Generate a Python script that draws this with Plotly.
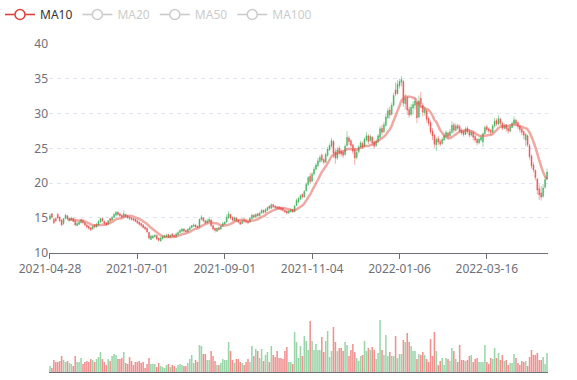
import plotly.graph_objects as go
import pandas as pd

# ---------------- data ----------------
tick_labels = ["2021-04-28", "2021-07-01", "2021-09-01", "2021-11-04", "2022-01-06", "2022-03-16"]
tick_index = [0, 45, 90, 135, 180, 225]

opens = [
    14.8, 15.6, 14.8, 14.9, 15.5, 15.1, 14.7, 14.2, 14.9, 15.3,
    14.6, 14.7, 14.9, 14.6, 13.9, 14.1, 14.3, 14.6, 14.3, 14.0,
    13.8, 13.6, 13.4, 14.0, 13.7, 14.0, 14.4, 14.9, 14.5, 14.3,
    14.1, 14.9, 14.7, 15.1, 15.4, 15.8, 15.6, 15.4, 15.2, 15.5,
    15.3, 15.1, 15.0, 14.9, 14.8, 14.6, 14.4, 14.2, 14.0, 13.7,
    13.5, 12.9, 11.9, 12.1, 12.3, 12.5, 12.1, 11.7, 12.0, 12.2,
    12.3, 12.6, 12.2, 12.7, 12.5, 12.3, 12.6, 12.9, 13.1, 13.4,
    13.2, 13.0, 13.3, 13.6, 13.8, 14.0, 13.8, 13.7, 14.8, 15.0,
    14.6, 14.3, 14.5, 14.7, 13.9, 13.5, 13.1, 13.6, 13.4, 13.8,
    14.1, 14.4, 15.0, 15.5, 15.1, 14.6, 15.0, 14.7, 14.4, 14.2,
    14.7, 14.6, 14.5, 14.4, 14.9, 15.4, 15.1, 15.6, 15.3, 15.7,
    16.1, 15.8, 16.1, 16.7, 16.4, 16.9, 16.7, 16.6, 16.6, 16.5,
    16.4, 16.1, 16.0, 15.7, 15.9, 16.2, 15.9, 16.8, 17.3, 17.7,
    18.4, 18.0, 18.9, 19.8, 21.0, 20.3, 21.3, 22.0, 22.5, 23.1,
    24.0, 23.4, 23.0, 24.0, 24.8, 25.3, 26.0, 24.5, 23.6, 25.0,
    24.6, 24.4, 24.1, 25.4, 26.5, 26.1, 25.5, 24.8, 23.7, 24.5,
    25.2, 25.7, 25.3, 26.2, 26.8, 26.1, 26.6, 25.9, 25.4, 26.0,
    26.6, 27.9, 27.4, 28.3, 29.4, 30.5, 29.9, 31.2, 33.4, 32.9,
    34.0, 34.5, 34.6, 31.4, 32.3, 30.6, 29.9, 30.8, 31.2, 31.6,
    29.5, 32.2, 31.2, 30.1, 30.4, 29.3, 28.7, 27.5, 26.9, 25.5,
    26.4, 26.0, 25.7, 26.2, 26.7, 27.2, 26.8, 27.3, 28.4, 27.6,
    28.3, 28.1, 27.6, 27.4, 27.0, 27.9, 27.5, 26.9, 27.3, 26.7,
    26.3, 25.8, 26.2, 25.9, 27.1, 28.1, 27.8, 27.6, 27.3, 28.2,
    29.0, 28.5, 29.2, 28.6, 27.9, 28.4, 27.9, 27.5, 28.0, 28.5,
    29.0, 28.7, 28.2, 27.8, 27.4, 26.2, 26.8, 25.4, 23.9, 22.6,
    21.8, 20.6, 19.2, 18.6, 18.1, 19.4, 20.6,
]

closes = [
    15.3, 15.1, 14.3, 14.6, 15.0, 14.6, 14.0, 14.9, 15.4, 14.9,
    14.9, 15.0, 14.5, 14.0, 14.2, 14.4, 14.7, 14.3, 14.0, 13.7,
    13.5, 13.3, 13.8, 13.7, 14.1, 14.5, 14.9, 14.6, 14.2, 14.0,
    14.6, 14.6, 15.1, 15.5, 15.8, 15.5, 15.3, 15.1, 15.6, 15.2,
    15.0, 14.9, 14.8, 14.7, 14.5, 14.3, 14.1, 13.9, 13.6, 13.4,
    13.0, 12.1, 12.4, 12.4, 12.5, 12.0, 11.8, 12.1, 12.3, 12.4,
    12.5, 12.2, 12.5, 12.4, 12.3, 12.7, 12.9, 13.2, 13.4, 13.1,
    13.0, 13.4, 13.6, 13.9, 14.0, 13.7, 13.6, 14.8, 15.1, 14.6,
    14.3, 14.6, 14.8, 13.9, 13.4, 13.2, 13.5, 13.3, 13.8, 14.2,
    14.4, 15.1, 15.6, 15.0, 14.7, 15.0, 14.6, 14.4, 14.1, 14.6,
    14.5, 14.4, 14.3, 14.9, 15.4, 15.1, 15.5, 15.3, 15.7, 16.1,
    15.8, 16.2, 16.5, 16.4, 16.9, 16.6, 16.5, 16.4, 16.3, 16.2,
    16.1, 15.9, 15.7, 16.0, 16.2, 15.9, 16.7, 17.5, 17.8, 18.2,
    18.0, 18.8, 19.8, 20.8, 20.2, 21.3, 22.0, 22.6, 23.2, 23.7,
    23.3, 23.0, 24.1, 24.9, 25.4, 26.1, 24.3, 23.6, 24.8, 24.4,
    24.2, 24.0, 25.3, 26.6, 26.0, 25.4, 24.6, 23.6, 24.4, 25.2,
    25.8, 25.2, 26.3, 26.8, 26.0, 26.7, 25.8, 25.3, 26.0, 26.8,
    27.8, 27.3, 28.4, 29.5, 30.4, 29.8, 31.2, 32.6, 32.8, 34.2,
    34.6, 34.9, 31.5, 32.2, 30.5, 29.8, 30.9, 31.3, 31.8, 29.4,
    31.8, 31.4, 30.2, 30.6, 29.2, 28.6, 27.4, 26.8, 25.6, 26.3,
    25.9, 25.6, 26.3, 26.8, 27.3, 26.7, 27.4, 28.3, 27.6, 28.2,
    27.9, 27.5, 27.2, 27.0, 27.8, 27.4, 26.9, 27.3, 26.6, 26.2,
    25.8, 26.3, 26.6, 27.1, 28.0, 27.7, 27.5, 27.3, 28.2, 28.9,
    28.5, 29.3, 28.6, 27.9, 28.3, 27.8, 27.5, 28.1, 28.6, 29.1,
    28.6, 28.2, 27.7, 27.3, 26.9, 27.0, 25.5, 23.8, 22.5, 21.9,
    20.8, 19.0, 18.3, 18.0, 19.3, 20.5, 21.6,
]

highs = [
    15.6, 15.7, 15.0, 15.1, 15.7, 15.2, 14.8, 15.0, 15.6, 15.4,
    15.1, 15.2, 15.0, 14.7, 14.4, 14.6, 14.8, 14.7, 14.4, 14.1,
    13.9, 13.7, 13.9, 14.1, 14.3, 14.7, 15.0, 15.1, 14.6, 14.4,
    14.7, 15.0, 15.3, 15.7, 16.0, 16.0, 15.7, 15.5, 16.1, 15.6,
    15.4, 15.2, 15.1, 15.0, 14.9, 14.7, 14.5, 14.3, 14.1, 13.8,
    13.6, 13.0, 12.6, 12.6, 12.7, 12.6, 12.2, 12.3, 12.5, 12.6,
    12.7, 12.7, 12.6, 12.8, 12.6, 12.9, 13.1, 13.4, 13.6, 13.5,
    13.3, 13.5, 13.8, 14.0, 14.2, 14.1, 13.9, 14.9, 15.4, 15.1,
    14.7, 14.9, 15.1, 14.8, 14.0, 13.6, 13.6, 13.7, 13.9, 14.4,
    14.5, 15.5, 16.0, 15.6, 15.2, 15.2, 15.1, 14.8, 14.6, 14.8,
    14.8, 14.7, 14.6, 15.1, 15.6, 15.5, 15.7, 15.7, 15.9, 16.3,
    16.2, 16.4, 16.6, 16.8, 17.1, 17.0, 16.8, 16.7, 16.7, 16.6,
    16.5, 16.2, 16.1, 16.2, 16.3, 16.3, 16.9, 17.8, 18.0, 18.4,
    18.5, 19.0, 20.1, 21.0, 21.5, 21.6, 22.4, 22.9, 23.6, 24.0,
    24.3, 23.6, 24.4, 25.2, 25.7, 26.5, 26.2, 25.0, 25.2, 25.4,
    24.9, 24.7, 25.6, 27.5, 26.8, 26.3, 25.7, 25.0, 24.8, 25.5,
    26.1, 26.0, 26.6, 27.3, 27.0, 27.0, 26.8, 26.1, 26.3, 27.1,
    28.2, 28.4, 28.8, 29.9, 30.8, 31.0, 31.6, 33.0, 34.5, 34.8,
    35.0, 35.4, 34.8, 32.8, 32.5, 31.0, 31.4, 31.8, 32.3, 31.6,
    32.6, 33.1, 31.5, 31.0, 30.6, 29.6, 29.0, 27.9, 27.1, 26.6,
    26.8, 26.3, 26.6, 27.2, 27.6, 27.4, 27.8, 28.9, 28.7, 28.6,
    28.5, 28.4, 27.9, 27.7, 28.1, 28.2, 27.7, 27.6, 27.4, 26.9,
    26.4, 26.6, 26.9, 27.3, 28.3, 28.4, 28.0, 27.8, 28.5, 29.4,
    29.3, 29.8, 29.4, 28.8, 28.6, 28.5, 28.1, 28.4, 28.9, 29.6,
    29.3, 28.9, 28.4, 28.0, 27.6, 27.2, 27.0, 25.6, 24.1, 23.0,
    22.0, 20.8, 19.8, 19.6, 19.9, 21.0, 22.1,
]

lows = [
    14.7, 14.9, 14.1, 14.4, 14.9, 14.4, 13.8, 14.0, 14.8, 14.7,
    14.5, 14.6, 14.4, 13.8, 13.8, 14.0, 14.2, 14.2, 13.8, 13.5,
    13.3, 13.1, 13.3, 13.5, 13.6, 13.9, 14.3, 14.4, 14.0, 13.9,
    14.0, 14.4, 14.6, 15.0, 15.3, 15.3, 15.1, 15.0, 15.1, 15.0,
    14.9, 14.7, 14.6, 14.5, 14.4, 14.1, 13.9, 13.7, 13.5, 13.2,
    12.8, 11.9, 11.8, 12.0, 12.2, 11.8, 11.6, 11.6, 11.9, 12.1,
    12.2, 12.1, 12.1, 12.3, 12.2, 12.2, 12.5, 12.8, 13.0, 13.0,
    12.9, 12.9, 13.2, 13.5, 13.7, 13.6, 13.5, 13.6, 14.6, 14.4,
    14.1, 14.2, 14.4, 13.7, 13.2, 12.9, 13.0, 13.2, 13.3, 13.7,
    14.0, 14.3, 14.9, 14.8, 14.5, 14.5, 14.4, 14.2, 14.0, 14.1,
    14.3, 14.2, 14.1, 14.3, 14.8, 14.9, 15.0, 15.2, 15.2, 15.6,
    15.6, 15.7, 16.0, 16.2, 16.3, 16.4, 16.3, 16.2, 16.2, 16.0,
    15.9, 15.7, 15.5, 15.6, 15.8, 15.7, 15.8, 16.7, 17.1, 17.5,
    17.8, 17.9, 18.8, 19.6, 19.9, 20.1, 21.1, 21.8, 22.3, 22.9,
    23.0, 22.7, 22.9, 23.8, 24.6, 25.1, 23.6, 22.8, 23.3, 24.0,
    23.8, 23.6, 24.0, 25.2, 25.5, 25.0, 24.2, 22.6, 23.4, 24.3,
    25.0, 24.9, 25.2, 26.0, 25.6, 25.9, 25.4, 24.9, 25.2, 25.8,
    26.4, 26.9, 27.2, 28.1, 29.2, 29.3, 29.7, 31.0, 32.5, 32.7,
    33.6, 33.9, 31.0, 30.6, 29.8, 29.4, 29.6, 29.8, 30.6, 28.6,
    29.3, 30.8, 29.6, 29.7, 28.7, 28.2, 27.0, 26.2, 25.1, 24.6,
    25.5, 25.3, 25.5, 26.1, 26.5, 26.3, 26.6, 27.1, 27.2, 27.4,
    27.6, 27.2, 26.9, 26.7, 26.9, 27.1, 26.6, 26.7, 26.1, 25.8,
    25.4, 25.6, 26.0, 25.2, 27.0, 27.4, 27.2, 26.9, 27.2, 28.0,
    28.2, 28.3, 28.3, 27.6, 27.7, 27.4, 27.1, 27.3, 27.9, 28.4,
    28.3, 27.8, 27.3, 26.9, 26.3, 25.3, 25.2, 23.4, 22.1, 21.5,
    20.4, 18.4, 17.6, 17.5, 17.9, 19.2, 20.4,
]

volumes = [
    6, 4, 12, 10, 10, 11, 16, 12, 10, 11,
    9, 8, 6, 16, 10, 10, 14, 8, 10, 11,
    10, 13, 12, 10, 13, 15, 20, 13, 10, 7,
    13, 11, 16, 18, 17, 13, 13, 14, 20, 9,
    8, 15, 11, 7, 10, 10, 11, 9, 10, 4,
    8, 14, 8, 8, 8, 5, 9, 6, 5, 4,
    7, 8, 5, 7, 6, 4, 7, 8, 7, 6,
    6, 9, 13, 17, 9, 12, 10, 27, 26, 18,
    18, 12, 12, 21, 16, 11, 7, 7, 9, 13,
    12, 12, 30, 21, 12, 9, 13, 13, 10, 9,
    7, 10, 13, 10, 26, 16, 23, 21, 14, 23,
    11, 17, 20, 10, 26, 17, 15, 21, 14, 14,
    13, 21, 25, 10, 10, 8, 40, 30, 14,
    26, 16, 36, 31, 22, 51, 31, 22, 28, 22, 22,
    35, 20, 31, 41, 15, 21, 45, 30, 21, 24,
    24, 21, 30, 27, 16, 22, 28, 20, 14, 11,
    16, 17, 31, 21, 24, 22, 25, 22, 13, 19,
    52, 22, 17, 37, 16, 20, 16, 16, 36, 14,
    18, 18, 32, 30, 39, 30, 26, 21, 21, 13,
    18, 17, 20, 17, 13, 10, 33, 16, 40, 21,
    7, 11, 14, 7, 14, 13, 11, 24, 21, 13,
    10, 27, 12, 12, 11, 12, 16, 17, 10, 13,
    14, 10, 10, 10, 27, 10, 8, 14, 13, 24,
    14, 19, 12, 17, 11, 12, 7, 9, 9, 18,
    14, 9, 7, 11, 10, 11, 6, 15, 22, 17,
    17, 19, 12, 12, 15, 8, 19,
]

ma_periods = [10, 20, 50, 100]

# ---------------- styling ----------------
UP = "#47b262"
DOWN = "#eb5454"
UP_VOL = "rgba(71,178,98,0.55)"
DOWN_VOL = "rgba(235,84,84,0.65)"
FONT = "Noto Sans"
AXIS = "#6E7079"

N = len(closes)
x = list(range(N))
close_s = pd.Series(closes)
ma = {n: close_s.rolling(n).mean().round(3).tolist() for n in ma_periods}

vol_colors = [UP_VOL if c >= o else DOWN_VOL for o, c in zip(opens, closes)]

fig = go.Figure()

fig.add_trace(go.Candlestick(
    x=x, open=opens, high=highs, low=lows, close=closes,
    increasing=dict(line=dict(color=UP, width=0.5), fillcolor=UP),
    decreasing=dict(line=dict(color=DOWN, width=0.5), fillcolor=DOWN),
    whiskerwidth=0, showlegend=False, xaxis="x", yaxis="y", name="K",
))

# MA10 drawn line
fig.add_trace(go.Scatter(
    x=x, y=ma[10], mode="lines",
    line=dict(color="rgba(226,82,72,0.5)", width=2.5, shape="spline", smoothing=1.0),
    showlegend=False, legendgroup="ma10", xaxis="x", yaxis="y", hoverinfo="skip",
))
# MA10 legend entry
fig.add_trace(go.Scatter(
    x=[None], y=[None], mode="lines+markers", name="MA10", legendgroup="ma10",
    line=dict(color="#d9433b", width=1.6),
    marker=dict(symbol="circle", size=10, color="white", line=dict(color="#d9433b", width=1.5)),
    xaxis="x", yaxis="y",
))
# hidden MAs
for n in ma_periods[1:]:
    fig.add_trace(go.Scatter(
        x=x, y=ma[n], mode="lines+markers", visible="legendonly",
        name=f"<span style='color:#999999'>MA{n}</span>",
        line=dict(color="#999999", width=1.6, shape="spline"),
        marker=dict(symbol="circle", size=10, color="white", line=dict(color="#999999", width=1.5)),
        xaxis="x", yaxis="y",
    ))

fig.add_trace(go.Bar(
    x=x, y=volumes, marker=dict(color=vol_colors, line=dict(width=0)),
    showlegend=False, xaxis="x2", yaxis="y2", name="Volume",
))

fig.update_layout(
    width=577, height=380,
    margin=dict(l=49, r=29, t=44, b=8, autoexpand=False),
    paper_bgcolor="white", plot_bgcolor="white",
    font=dict(family=FONT, size=12, color=AXIS),
    bargap=0.2,
    showlegend=True,
    legend=dict(orientation="h", xref="container", yref="container",
                x=0.0, y=1.0, xanchor="left", yanchor="top",
                font=dict(family=FONT, size=12, color="#333333"),
                bgcolor="rgba(0,0,0,0)", itemwidth=30, tracegroupgap=0),
    xaxis=dict(domain=[0, 1], range=[-0.5, N - 0.5], anchor="y",
               tickmode="array", tickvals=tick_index, ticktext=tick_labels,
               showline=True, linecolor=AXIS, linewidth=1,
               ticks="outside", ticklen=5, tickcolor=AXIS,
               showgrid=False, zeroline=False, automargin=False,
               rangeslider=dict(visible=False),
               tickfont=dict(family=FONT, size=12, color=AXIS)),
    yaxis=dict(domain=[0.3637, 1], range=[10, 40], tick0=10, dtick=5, anchor="x",
               showgrid=True, gridcolor="#E0E6F1", griddash="4px,4px", gridwidth=1,
               zeroline=False, showline=False, ticks="", automargin=False,
               tickfont=dict(family=FONT, size=12, color=AXIS)),
    xaxis2=dict(domain=[0, 1], matches="x", anchor="y2", showticklabels=False,
                showline=True, linecolor=AXIS, linewidth=1, ticks="", automargin=False,
                showgrid=False, zeroline=False, rangeslider=dict(visible=False)),
    yaxis2=dict(domain=[0, 0.183], range=[0, 60], anchor="x2", visible=False,
                showgrid=False, zeroline=False),
)

fig.write_html("out.html", config={"displayModeBar": False},
               post_script="document.body.style.margin='0';document.body.style.padding='0';")
